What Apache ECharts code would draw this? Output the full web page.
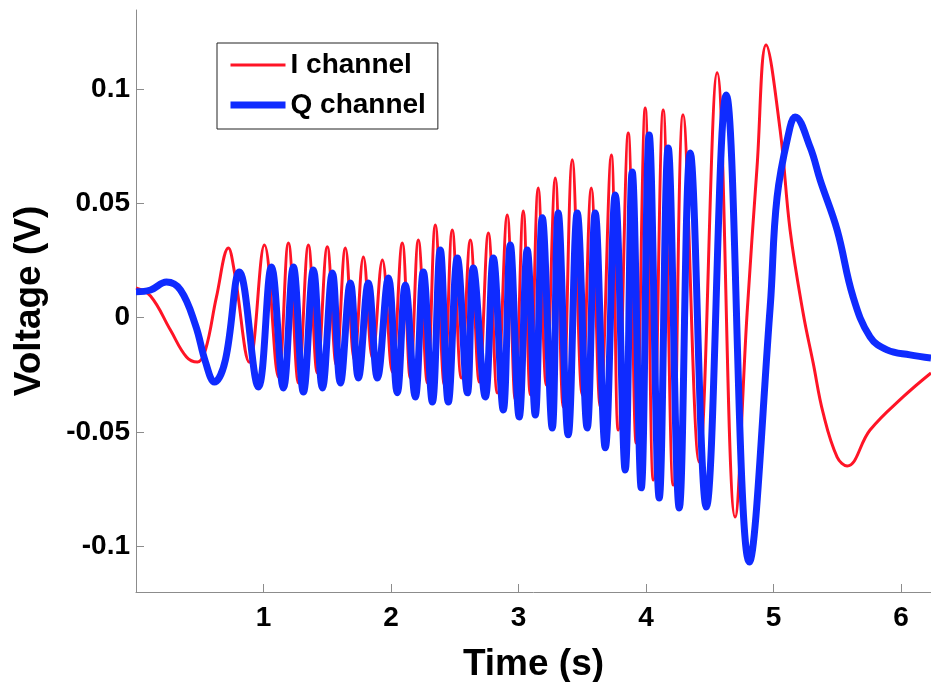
<!DOCTYPE html>
<html>
<head>
<meta charset="utf-8">
<script src="https://cdn.jsdelivr.net/npm/echarts@6/dist/echarts.min.js"></script>
<style>
html,body{margin:0;padding:0;background:#fff;}
#chart{width:931px;height:682px;}
</style>
</head>
<body>
<div id="chart"></div>
<script>
// ---- Data ----
var seriesNames = ['I channel', 'Q channel'];
var xTickValues = [1, 2, 3, 4, 5, 6];
var yTickValues = [-0.1, -0.05, 0, 0.05, 0.1];

// I channel (red): time (s)
var iTimes = [0, 0.114, 0.270, 0.396, 0.482, 0.545, 0.631, 0.725, 0.772, 0.889, 1.007,
  1.117, 1.195, 1.274, 1.352, 1.422, 1.500, 1.571, 1.642, 1.712, 1.783, 1.854, 1.932,
  2.010, 2.088, 2.151, 2.214, 2.285, 2.347, 2.418, 2.480, 2.551, 2.622, 2.692, 2.763,
  2.833, 2.911, 2.974, 3.037, 3.092, 3.154, 3.217, 3.288, 3.350, 3.421, 3.499, 3.570,
  3.641, 3.727, 3.781, 3.860, 3.922, 3.993, 4.056, 4.134, 4.212, 4.290, 4.416, 4.557,
  4.698, 4.792, 4.870, 4.941, 5.051, 5.129, 5.231, 5.310, 5.388, 5.498, 5.577, 5.756,
  6.015, 6.234];
// I channel (red): voltage (V)
var iValues = [0.013, 0.0095, -0.0054, -0.0172, -0.0194, -0.0141, 0.0091, 0.0305, 0.0200, -0.0195, 0.0318,
  -0.0260, 0.0327, -0.0286, 0.0318, -0.0242, 0.0310, -0.0207, 0.0305, -0.0185, 0.0266, -0.0176, 0.0253,
  -0.0238, 0.0327, -0.0264, 0.0340, -0.0286, 0.0406, -0.0295, 0.0384, -0.0264, 0.0340, -0.0282, 0.0371,
  -0.0330, 0.0450, -0.0360, 0.0467, -0.0338, 0.0568, -0.0295, 0.0612, -0.0391, 0.0691, -0.0338, 0.0568,
  -0.0391, 0.0712, -0.0492, 0.0809, -0.0549, 0.0918, -0.0711, 0.0909, -0.0733, 0.0888, -0.0632, 0.1072,
  -0.0873, 0.0021, 0.0660, 0.1194, 0.0821, 0.0384, 0.0021, -0.0198, -0.0417, -0.0610, -0.0649, -0.0492,
  -0.0347, -0.0242];

// Q channel (blue): time (s)
var qTimes = [0, 0.114, 0.239, 0.349, 0.466, 0.545, 0.615, 0.701, 0.811, 0.960, 1.062,
  1.156, 1.234, 1.313, 1.391, 1.462, 1.540, 1.603, 1.681, 1.744, 1.822, 1.893, 1.979,
  2.049, 2.112, 2.190, 2.253, 2.324, 2.386, 2.449, 2.520, 2.599, 2.645, 2.739, 2.802,
  2.880, 2.935, 3.005, 3.068, 3.131, 3.186, 3.264, 3.311, 3.389, 3.460, 3.538, 3.601,
  3.680, 3.758, 3.836, 3.891, 3.962, 4.024, 4.103, 4.173, 4.260, 4.346, 4.472, 4.628,
  4.809, 4.973, 5.027, 5.129, 5.168, 5.286, 5.365, 5.498, 5.623, 5.756, 5.889, 6.069,
  6.234];
// Q channel (blue): voltage (V)
var qValues = [0.0113, 0.0121, 0.0156, 0.0121, -0.0032, -0.0194, -0.0282, -0.0185, 0.0200, -0.0303, 0.0222,
  -0.0308, 0.0222, -0.0325, 0.0209, -0.0308, 0.0196, -0.0286, 0.0152, -0.0264, 0.0152, -0.0264, 0.0174,
  -0.0329, 0.0143, -0.0347, 0.0200, -0.0369, 0.0296, -0.0369, 0.0261, -0.0329, 0.0218, -0.0347, 0.0261,
  -0.0404, 0.0318, -0.0435, 0.0296, -0.0426, 0.0437, -0.0483, 0.0458, -0.0513, 0.0458, -0.0483, 0.0458,
  -0.0570, 0.0537, -0.0667, 0.0638, -0.0745, 0.0800, -0.0789, 0.0743, -0.0833, 0.0721, -0.0829, 0.0975,
  -0.1070, 0.0047, 0.0528, 0.0835, 0.0879, 0.0747, 0.0602, 0.0384, 0.0091, -0.0084, -0.0141, -0.0163,
  -0.0177];

function zip(ts, vs) {
  var out = [];
  for (var k = 0; k < ts.length; k++) out.push([ts[k], vs[k]]);
  return out;
}

var FONT = '"Liberation Sans", Arial, Helvetica, sans-serif';
var AXIS_GRAY = '#8c8c8c';

var chart = echarts.init(document.getElementById('chart'), null, {renderer: 'canvas'});
chart.setOption({
  animation: false,
  backgroundColor: '#ffffff',
  grid: {left: 136, right: 0, top: 10, bottom: 90, containLabel: false, outerBoundsMode: 'none'},
  legend: {
    data: seriesNames,
    orient: 'vertical',
    left: 217,
    top: 43,
    padding: [8, 12, 10, 10],
    itemGap: 12,
    itemWidth: 55,
    itemHeight: 14,
    borderColor: '#222',
    borderWidth: 1,
    backgroundColor: '#fff',
    itemStyle: {opacity: 0},
    lineStyle: {width: 'inherit'},
    textStyle: {fontFamily: FONT, fontSize: 28, fontWeight: 'bold', color: '#000'}
  },
  xAxis: {
    type: 'value',
    min: 0,
    max: 6.234,
    name: 'Time (s)',
    nameLocation: 'middle',
    nameGap: 54,
    nameTextStyle: {fontFamily: FONT, fontSize: 37, fontWeight: 'bold', color: '#000'},
    axisLine: {show: true, onZero: false, lineStyle: {color: AXIS_GRAY, width: 1}},
    axisTick: {show: true, inside: true, length: 8, customValues: xTickValues, lineStyle: {color: AXIS_GRAY}},
    axisLabel: {customValues: xTickValues, margin: 12, fontFamily: FONT, fontSize: 28, fontWeight: 'bold', color: '#000'},
    splitLine: {show: false}
  },
  yAxis: {
    type: 'value',
    min: -0.1201,
    max: 0.1347,
    name: 'Voltage (V)',
    nameLocation: 'middle',
    nameGap: 88,
    nameRotate: 90,
    nameTextStyle: {fontFamily: FONT, fontSize: 37, fontWeight: 'bold', color: '#000'},
    axisLine: {show: true, onZero: false, lineStyle: {color: AXIS_GRAY, width: 1}},
    axisTick: {show: true, inside: true, length: 8, customValues: yTickValues, lineStyle: {color: AXIS_GRAY}},
    axisLabel: {customValues: yTickValues, margin: 6, fontFamily: FONT, fontSize: 28, fontWeight: 'bold', color: '#000'},
    splitLine: {show: false}
  },
  series: [
    {
      name: seriesNames[0],
      type: 'line',
      data: zip(iTimes, iValues),
      showSymbol: false,
      symbol: 'none',
      smooth: 0.4,
      lineStyle: {color: '#ff1426', width: 3},
      itemStyle: {color: '#ff1426'},
      z: 2
    },
    {
      name: seriesNames[1],
      type: 'line',
      data: zip(qTimes, qValues),
      showSymbol: false,
      symbol: 'none',
      smooth: 0.4,
      lineStyle: {color: '#0f2bff', width: 7},
      itemStyle: {color: '#0f2bff'},
      z: 3
    }
  ]
});
</script>
</body>
</html>
